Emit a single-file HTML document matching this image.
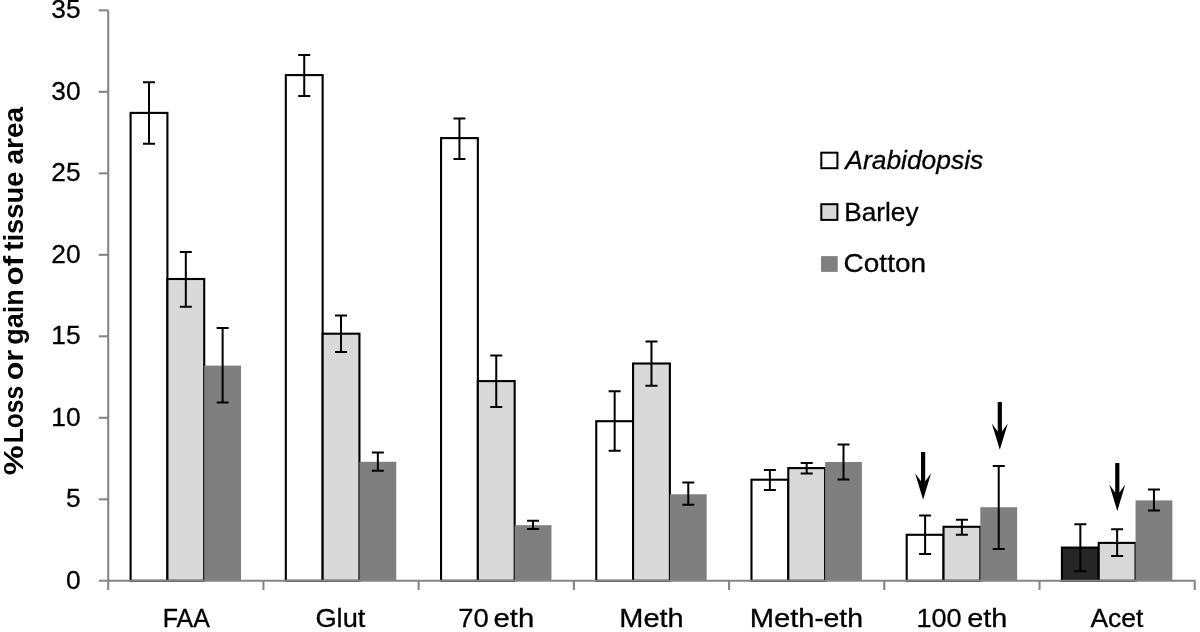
<!DOCTYPE html>
<html><head><meta charset="utf-8"><title>chart</title>
<style>html,body{margin:0;padding:0;background:#fff}svg{display:block;filter:grayscale(1)}text{font-family:"Liberation Sans",sans-serif;fill:#000;stroke:#000;stroke-width:.3px}text[font-weight]{stroke:none}</style></head><body>
<svg width="1200" height="632" viewBox="0 0 1200 632">
<rect width="1200" height="632" fill="#fff"/>
<rect x="130.60" y="112.90" width="36.81" height="467.90" fill="#ffffff" stroke="#000" stroke-width="2.1"/>
<rect x="167.41" y="279.00" width="36.81" height="301.80" fill="#d9d9d9" stroke="#000" stroke-width="2.1"/>
<rect x="204.22" y="365.60" width="36.81" height="215.20" fill="#7f7f7f"/>
<rect x="285.82" y="75.10" width="36.81" height="505.70" fill="#ffffff" stroke="#000" stroke-width="2.1"/>
<rect x="322.63" y="333.70" width="36.81" height="247.10" fill="#d9d9d9" stroke="#000" stroke-width="2.1"/>
<rect x="359.44" y="461.80" width="36.81" height="119.00" fill="#7f7f7f"/>
<rect x="441.04" y="138.10" width="36.81" height="442.70" fill="#ffffff" stroke="#000" stroke-width="2.1"/>
<rect x="477.85" y="381.10" width="36.81" height="199.70" fill="#d9d9d9" stroke="#000" stroke-width="2.1"/>
<rect x="514.66" y="525.20" width="36.81" height="55.60" fill="#7f7f7f"/>
<rect x="596.26" y="421.20" width="36.81" height="159.60" fill="#ffffff" stroke="#000" stroke-width="2.1"/>
<rect x="633.07" y="363.50" width="36.81" height="217.30" fill="#d9d9d9" stroke="#000" stroke-width="2.1"/>
<rect x="669.88" y="494.30" width="36.81" height="86.50" fill="#7f7f7f"/>
<rect x="751.48" y="479.70" width="36.81" height="101.10" fill="#ffffff" stroke="#000" stroke-width="2.1"/>
<rect x="788.29" y="468.10" width="36.81" height="112.70" fill="#d9d9d9" stroke="#000" stroke-width="2.1"/>
<rect x="825.10" y="462.00" width="36.81" height="118.80" fill="#7f7f7f"/>
<rect x="906.70" y="534.80" width="36.81" height="46.00" fill="#ffffff" stroke="#000" stroke-width="2.1"/>
<rect x="943.51" y="526.80" width="36.81" height="54.00" fill="#d9d9d9" stroke="#000" stroke-width="2.1"/>
<rect x="980.32" y="507.20" width="36.81" height="73.60" fill="#7f7f7f"/>
<rect x="1061.92" y="547.60" width="36.81" height="33.20" fill="#262626" stroke="#000" stroke-width="2.1"/>
<rect x="1098.73" y="542.90" width="36.81" height="37.90" fill="#d9d9d9" stroke="#000" stroke-width="2.1"/>
<rect x="1135.54" y="500.40" width="36.81" height="80.40" fill="#7f7f7f"/>
<g stroke="#868686" stroke-width="2.1" fill="none">
<line x1="108.2" y1="10.3" x2="108.2" y2="580.8"/>
<line x1="98.8" y1="580.8" x2="1195.54" y2="580.8"/>
<line x1="98.8" y1="499.31" x2="108.2" y2="499.31"/>
<line x1="98.8" y1="417.81" x2="108.2" y2="417.81"/>
<line x1="98.8" y1="336.32" x2="108.2" y2="336.32"/>
<line x1="98.8" y1="254.83" x2="108.2" y2="254.83"/>
<line x1="98.8" y1="173.33" x2="108.2" y2="173.33"/>
<line x1="98.8" y1="91.84" x2="108.2" y2="91.84"/>
<line x1="98.8" y1="10.35" x2="108.2" y2="10.35"/>
<line x1="108.20" y1="580.8" x2="108.20" y2="590.0"/>
<line x1="263.42" y1="580.8" x2="263.42" y2="590.0"/>
<line x1="418.64" y1="580.8" x2="418.64" y2="590.0"/>
<line x1="573.86" y1="580.8" x2="573.86" y2="590.0"/>
<line x1="729.08" y1="580.8" x2="729.08" y2="590.0"/>
<line x1="884.30" y1="580.8" x2="884.30" y2="590.0"/>
<line x1="1039.52" y1="580.8" x2="1039.52" y2="590.0"/>
<line x1="1194.74" y1="580.8" x2="1194.74" y2="590.0"/>
</g>
<g stroke="#000" stroke-width="2" fill="none">
<path d="M149.00 82.20V143.80M143.00 82.20H155.00M143.00 143.80H155.00"/>
<path d="M185.81 251.90V306.70M179.81 251.90H191.81M179.81 306.70H191.81"/>
<path d="M222.62 328.00V402.60M216.62 328.00H228.62M216.62 402.60H228.62"/>
<path d="M304.23 55.10V96.10M298.23 55.10H310.23M298.23 96.10H310.23"/>
<path d="M341.03 315.60V352.00M335.03 315.60H347.03M335.03 352.00H347.03"/>
<path d="M377.85 452.60V470.70M371.85 452.60H383.85M371.85 470.70H383.85"/>
<path d="M459.44 118.40V158.90M453.44 118.40H465.44M453.44 158.90H465.44"/>
<path d="M496.25 355.40V406.90M490.25 355.40H502.25M490.25 406.90H502.25"/>
<path d="M533.06 520.70V529.00M527.06 520.70H539.06M527.06 529.00H539.06"/>
<path d="M614.66 391.30V450.80M608.66 391.30H620.66M608.66 450.80H620.66"/>
<path d="M651.47 341.50V385.70M645.47 341.50H657.47M645.47 385.70H657.47"/>
<path d="M688.28 482.50V504.80M682.28 482.50H694.28M682.28 504.80H694.28"/>
<path d="M769.88 470.00V489.90M763.88 470.00H775.88M763.88 489.90H775.88"/>
<path d="M806.69 463.00V473.50M800.69 463.00H812.69M800.69 473.50H812.69"/>
<path d="M843.50 444.50V479.40M837.50 444.50H849.50M837.50 479.40H849.50"/>
<path d="M925.11 515.50V554.10M919.11 515.50H931.11M919.11 554.10H931.11"/>
<path d="M961.91 519.80V534.80M955.91 519.80H967.91M955.91 534.80H967.91"/>
<path d="M998.73 466.00V549.10M992.73 466.00H1004.73M992.73 549.10H1004.73"/>
<path d="M1080.33 524.30V571.30M1074.33 524.30H1086.33M1074.33 571.30H1086.33"/>
<path d="M1117.13 529.30V556.10M1111.13 529.30H1123.13M1111.13 556.10H1123.13"/>
<path d="M1153.94 489.40V510.60M1147.94 489.40H1159.94M1147.94 510.60H1159.94"/>
</g>
<path d="M921.00 452.00H925.20V481.20L931.10 473.20L923.10 499.80L915.10 473.20L921.00 481.20Z" fill="#000"/>
<path d="M997.70 402.00H1001.90V431.60L1007.80 423.60L999.80 449.80L991.80 423.60L997.70 431.60Z" fill="#000"/>
<path d="M1115.20 463.10H1119.40V492.60L1125.30 484.60L1117.30 511.00L1109.30 484.60L1115.20 492.60Z" fill="#000"/>
<text x="80.6" y="588.90" font-size="26.3" text-anchor="end">0</text>
<text x="80.6" y="507.41" font-size="26.3" text-anchor="end">5</text>
<text x="80.6" y="425.91" font-size="26.3" text-anchor="end">10</text>
<text x="80.6" y="344.42" font-size="26.3" text-anchor="end">15</text>
<text x="80.6" y="262.93" font-size="26.3" text-anchor="end">20</text>
<text x="80.6" y="181.43" font-size="26.3" text-anchor="end">25</text>
<text x="80.6" y="99.94" font-size="26.3" text-anchor="end">30</text>
<text x="80.6" y="18.45" font-size="26.3" text-anchor="end">35</text>
<text x="162.76" y="627.1" font-size="26.3" textLength="47.1" lengthAdjust="spacingAndGlyphs">FAA</text>
<text x="315.43" y="627.1" font-size="26.3" textLength="49.98" lengthAdjust="spacingAndGlyphs">Glut</text>
<text x="458.18" y="627.1" font-size="26.3" textLength="30.46" lengthAdjust="spacingAndGlyphs">70</text>
<text x="493.59" y="627.1" font-size="26.3" textLength="40.66" lengthAdjust="spacingAndGlyphs">eth</text>
<text x="619.31" y="627.1" font-size="26.3" textLength="64.42" lengthAdjust="spacingAndGlyphs">Meth</text>
<text x="749.79" y="627.1" font-size="26.3" textLength="64.81" lengthAdjust="spacingAndGlyphs">Meth</text>
<text x="814.57" y="627.1" font-size="26.3" textLength="9.3" lengthAdjust="spacingAndGlyphs">-</text>
<text x="823.55" y="627.1" font-size="26.3" textLength="39.56" lengthAdjust="spacingAndGlyphs">eth</text>
<text x="916.44" y="627.1" font-size="26.3" textLength="45.21" lengthAdjust="spacingAndGlyphs">100</text>
<text x="967.28" y="627.1" font-size="26.3" textLength="40.11" lengthAdjust="spacingAndGlyphs">eth</text>
<text x="1090.5" y="627.1" font-size="26.3" textLength="52.85" lengthAdjust="spacingAndGlyphs">Acet</text>
<text x="845.32" y="169.2" font-size="26.3" font-style="italic" textLength="137.91" lengthAdjust="spacingAndGlyphs">Arabidopsis</text>
<text x="844.31" y="220.7" font-size="26.3" textLength="74.24" lengthAdjust="spacingAndGlyphs">Barley</text>
<text x="843.61" y="272.0" font-size="26.3" textLength="82.43" lengthAdjust="spacingAndGlyphs">Cotton</text>
<text transform="translate(22.5,475.16) rotate(-90)" font-size="27.0" font-weight="bold" textLength="29.84" lengthAdjust="spacingAndGlyphs">%</text>
<text transform="translate(22.5,443.34) rotate(-90)" font-size="27.0" font-weight="bold" textLength="57.63" lengthAdjust="spacingAndGlyphs">Loss</text>
<text transform="translate(22.5,380.25) rotate(-90)" font-size="27.0" font-weight="bold" textLength="30.43" lengthAdjust="spacingAndGlyphs">or</text>
<text transform="translate(22.5,344.72) rotate(-90)" font-size="27.0" font-weight="bold" textLength="55.57" lengthAdjust="spacingAndGlyphs">gain</text>
<text transform="translate(22.5,285.61) rotate(-90)" font-size="27.0" font-weight="bold" textLength="29.91" lengthAdjust="spacingAndGlyphs">of</text>
<text transform="translate(22.5,250.66) rotate(-90)" font-size="27.0" font-weight="bold" textLength="79.29" lengthAdjust="spacingAndGlyphs">tissue</text>
<text transform="translate(22.5,164.46) rotate(-90)" font-size="27.0" font-weight="bold" textLength="57.62" lengthAdjust="spacingAndGlyphs">area</text>
<rect x="821.3" y="152.7" width="16.1" height="15.5" fill="#fff" stroke="#000" stroke-width="2"/>
<rect x="821.3" y="204.2" width="16.1" height="15.7" fill="#d9d9d9" stroke="#000" stroke-width="2"/>
<rect x="821.1" y="256.1" width="16.6" height="15.8" fill="#7f7f7f"/>
</svg></body></html>
